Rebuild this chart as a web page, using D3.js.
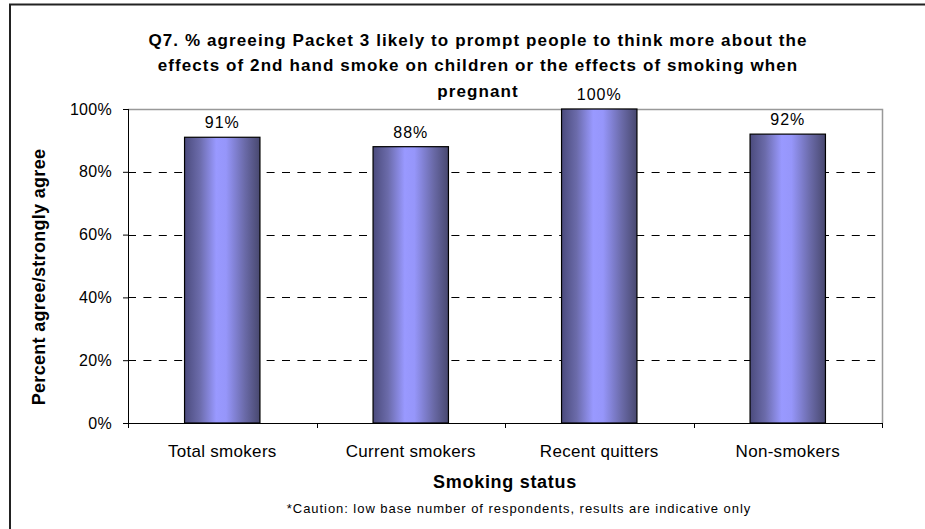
<!DOCTYPE html>
<html><head><meta charset="utf-8">
<script src="https://cdn.jsdelivr.net/npm/d3@7"></script>
<style>body{margin:0;background:#fff}svg{display:block}text{font-family:"Liberation Sans",Arial,sans-serif}</style>
</head><body>
<svg id="c" width="925" height="529"></svg>
<script>
const categories = ["Total smokers","Current smokers","Recent quitters","Non-smokers"];
const values = [0.91, 0.88, 1.00, 0.92];
const valueLabels = ["91%","88%","100%","92%"];
const yTicks = [0,0.2,0.4,0.6,0.8,1.0];
const titleLines = ["Q7. % agreeing Packet 3 likely to prompt people to think more about the","effects of 2nd hand smoke on children or the effects of smoking when","pregnant"];

const svg = d3.select("#c");
const m = {l:128, t:109, r:882, b:423};

// outer border (left/top visible)
svg.append("path").attr("d","M10,540 L10,4.5 L940,4.5").attr("fill","none").attr("stroke","#222").attr("stroke-width",2);

const defs = svg.append("defs");
const g = defs.append("linearGradient").attr("id","bg").attr("x1","0").attr("x2","1").attr("y1","0").attr("y2","0");
[[0,"#4b4b7d"],[0.2,"#6b6baa"],[0.42,"#9999ff"],[0.55,"#9696fa"],[0.8,"#6a6aa8"],[1,"#48486f"]].forEach(s=>g.append("stop").attr("offset",s[0]).attr("stop-color",s[1]));

const x = d3.scaleBand().domain(categories).range([m.l,m.r]).paddingInner(0.6).paddingOuter(0.3);
const xb = d3.scaleBand().domain(categories).range([m.l,m.r]);
const y = d3.scaleLinear().domain([0,1]).range([m.b,m.t]);

// plot frame top/right
svg.append("path").attr("d",`M${m.l},${m.t+0.5} L${m.r+0.5},${m.t+0.5} L${m.r+0.5},${m.b}`).attr("fill","none").attr("stroke","#999").attr("stroke-width",1.5);

// gridlines
svg.append("g").selectAll("line").data(yTicks.filter(d=>d>0&&d<1)).join("line")
  .attr("x1",m.l).attr("x2",m.r-5).attr("y1",d=>Math.round(y(d))+0.5).attr("y2",d=>Math.round(y(d))+0.5)
  .attr("stroke","#000").attr("stroke-dasharray","8,7.4");

// bars
svg.append("g").selectAll("rect").data(values).join("rect")
  .attr("x",(d,i)=>x(categories[i])).attr("width",x.bandwidth())
  .attr("y",d=>y(d)).attr("height",d=>y(0)-y(d))
  .attr("fill","url(#bg)").attr("stroke","#000").attr("stroke-width",1.2);

// value labels
svg.append("g").selectAll("text").data(values).join("text")
  .attr("x",(d,i)=>x(categories[i])+x.bandwidth()/2).attr("y",d=>y(d)-9)
  .attr("text-anchor","middle").attr("font-size",16).attr("letter-spacing",1).text((d,i)=>valueLabels[i]);

// y axis
const ya = svg.append("g").attr("transform",`translate(${m.l},0)`)
  .call(d3.axisLeft(y).tickValues(yTicks).tickFormat(d3.format(".0%")).tickSize(5).tickPadding(11));
ya.select(".domain").attr("d",`M0.5,${m.t}V${m.b}`).attr("stroke","#000");
ya.selectAll("text").attr("font-size",16).attr("font-family","Liberation Sans, Arial").attr("fill","#000").attr("letter-spacing",0.3);

// x axis
const xa = svg.append("g").attr("transform",`translate(0,${m.b})`)
  .call(d3.axisBottom(xb).tickSize(0).tickPadding(22));
xa.select(".domain").attr("d",`M${m.l},0.5H${m.r}`).attr("stroke","#000");
xa.selectAll("text").attr("font-size",17).attr("font-family","Liberation Sans, Arial").attr("fill","#000").attr("letter-spacing",0.3);
xa.selectAll(".sep").data(d3.range(categories.length+1)).join("line").attr("class","sep")
  .attr("x1",i=>Math.round(m.l+i*xb.step())+0.5).attr("x2",i=>Math.round(m.l+i*xb.step())+0.5).attr("y1",0).attr("y2",5).attr("stroke","#000");

// title
svg.append("g").selectAll("text").data(titleLines).join("text")
  .attr("x",478).attr("y",(d,i)=>[46,71,97][i]).attr("text-anchor","middle")
  .attr("font-size",17).attr("font-weight","bold").attr("letter-spacing",1.1).text(d=>d);

// axis titles
svg.append("text").attr("x",505).attr("y",488).attr("text-anchor","middle").attr("font-size",18).attr("font-weight","bold").attr("letter-spacing",0.7).text("Smoking status");
svg.append("text").attr("transform","translate(45,277) rotate(-90)").attr("text-anchor","middle").attr("font-size",18).attr("font-weight","bold").attr("letter-spacing",0.3).text("Percent agree/strongly agree");
svg.append("text").attr("x",519).attr("y",513).attr("text-anchor","middle").attr("font-size",13).attr("letter-spacing",0.95).text("*Caution: low base number of respondents, results are indicative only");
</script>
</body></html>
